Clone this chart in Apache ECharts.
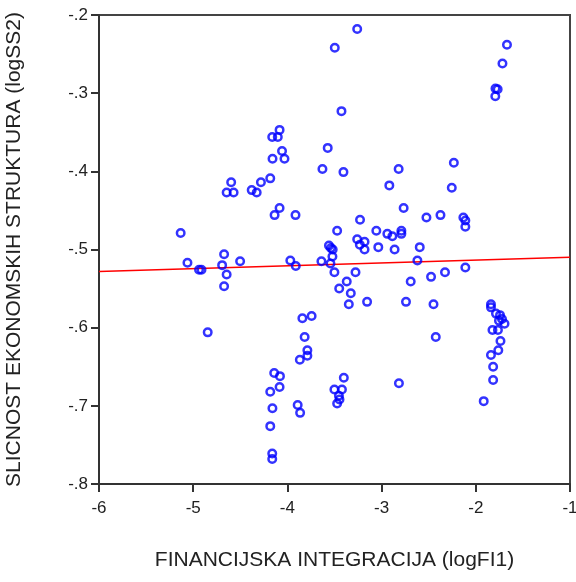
<!DOCTYPE html>
<html>
<head>
<meta charset="utf-8">
<script src="https://cdn.jsdelivr.net/npm/echarts@6/dist/echarts.min.js"></script>
<style>html,body{margin:0;padding:0;background:#fff}#c{width:576px;height:582px}</style>
</head>
<body>
<div id="c"></div>
<script>
const xTitle = 'FINANCIJSKA INTEGRACIJA (logFI1)';
const yTitle = 'SLICNOST EKONOMSKIH STRUKTURA (logSS2)';
const xTicks = [-6, -5, -4, -3, -2, -1];
const yTicks = [-0.8, -0.7, -0.6, -0.5, -0.4, -0.3, -0.2];

const logFI1 = [
  -3.259, -3.497, -3.426, -4.083, -4.161, -4.102, -4.057, -4.158, -4.031, -3.572,
  -4.597, -4.645, -4.571, -4.379, -4.326, -4.281, -4.182, -4.083, -4.136, -3.914,
  -3.628, -5.133, -5.061, -4.938, -4.912, -4.672, -4.693, -4.645, -4.672, -4.502,
  -3.969, -3.911, -3.639, -4.846, -3.559, -3.538, -3.519, -3.522, -3.543, -3.501,
  -3.450, -3.370, -3.327, -3.277, -3.348, -3.154, -3.259, -3.181, -3.231, -3.181,
  -3.229, -3.405, -3.472, -3.056, -2.939, -2.886, -2.790, -2.790, -3.035, -2.862,
  -2.595, -2.620, -2.691, -2.475, -2.327, -2.111, -2.741, -2.449, -2.425, -2.819,
  -2.918, -2.233, -2.255, -2.766, -2.524, -2.375, -2.132, -2.111, -2.111, -1.669,
  -1.717, -1.791, -1.768, -1.793, -1.839, -1.839, -1.786, -1.743, -1.722, -1.695,
  -1.754, -1.823, -1.765, -1.738, -1.761, -1.839, -1.816, -1.816, -1.916, -3.841,
  -3.743, -3.817, -3.788, -3.788, -3.868, -4.140, -4.079, -4.083, -4.182, -4.159,
  -4.182, -4.161, -4.161, -3.891, -3.865, -3.401, -3.501, -3.421, -3.453, -3.447,
  -3.472, -2.816
];
const logSS2 = [
  -0.218, -0.242, -0.323, -0.347, -0.356, -0.356, -0.374, -0.384, -0.384, -0.370,
  -0.414, -0.427, -0.427, -0.424, -0.427, -0.414, -0.409, -0.447, -0.456, -0.456,
  -0.397, -0.479, -0.517, -0.526, -0.526, -0.506, -0.520, -0.532, -0.547, -0.515,
  -0.514, -0.521, -0.515, -0.606, -0.495, -0.498, -0.500, -0.509, -0.518, -0.529,
  -0.550, -0.541, -0.556, -0.529, -0.570, -0.567, -0.487, -0.490, -0.494, -0.500,
  -0.462, -0.401, -0.476, -0.476, -0.480, -0.483, -0.476, -0.480, -0.497, -0.500,
  -0.497, -0.514, -0.541, -0.535, -0.529, -0.523, -0.567, -0.570, -0.612, -0.397,
  -0.418, -0.389, -0.421, -0.447, -0.459, -0.456, -0.459, -0.463, -0.471, -0.238,
  -0.262, -0.294, -0.295, -0.304, -0.570, -0.574, -0.582, -0.584, -0.589, -0.595,
  -0.591, -0.603, -0.603, -0.617, -0.629, -0.635, -0.650, -0.667, -0.694, -0.588,
  -0.585, -0.612, -0.629, -0.636, -0.641, -0.658, -0.662, -0.676, -0.682, -0.703,
  -0.726, -0.761, -0.768, -0.699, -0.709, -0.664, -0.679, -0.679, -0.687, -0.692,
  -0.697, -0.671
];
const fitX = [-6, -1];
const fitY = [-0.528, -0.510];

const pts = logFI1.map((x, i) => [x, logSS2[i]]);
const fitPts = fitX.map((x, i) => [x, fitY[i]]);

const font = 'Liberation Sans, Arial, sans-serif';
const chart = echarts.init(document.getElementById('c'), null, {renderer: 'canvas'});
chart.setOption({
  animation: false,
  backgroundColor: '#ffffff',
  grid: {left: 99, top: 15, right: 6, bottom: 98, outerBoundsMode: 'none', containLabel: false,
    show: true, borderColor: '#444', borderWidth: 2, backgroundColor: 'transparent'},
  xAxis: {
    type: 'value', min: xTicks[0], max: xTicks[xTicks.length - 1], interval: 1,
    name: xTitle, nameLocation: 'middle', nameGap: 66,
    nameTextStyle: {fontFamily: font, fontSize: 21, color: '#222'},
    axisLine: {show: true, onZero: false, lineStyle: {color: '#333', width: 2}},
    axisTick: {show: true, length: 8, inside: false, lineStyle: {color: '#333', width: 2}},
    axisLabel: {fontFamily: font, fontSize: 17, color: '#222', margin: 16},
    splitLine: {show: false}
  },
  yAxis: {
    type: 'value', min: yTicks[0], max: yTicks[yTicks.length - 1], interval: 0.1,
    name: yTitle, nameLocation: 'middle', nameGap: 74, nameRotate: 90,
    nameTextStyle: {fontFamily: font, fontSize: 21, color: '#222'},
    axisLine: {show: true, onZero: false, lineStyle: {color: '#333', width: 2}},
    axisTick: {show: true, length: 8, inside: false, lineStyle: {color: '#333', width: 2}},
    axisLabel: {fontFamily: font, fontSize: 17, color: '#222', margin: 11,
      formatter: v => v.toFixed(1).replace('0.', '.')},
    splitLine: {show: false}
  },
  series: [
    {type: 'line', data: fitPts, showSymbol: false, symbol: 'none', z: 1,
     lineStyle: {color: '#ff0000', width: 1.5}, silent: true},
    {type: 'scatter', data: pts, symbol: 'circle', symbolSize: 7.5, z: 2,
     itemStyle: {color: 'rgba(255,255,255,0)', borderColor: '#0000ff', borderWidth: 2.5}}
  ]
});
</script>
</body>
</html>
